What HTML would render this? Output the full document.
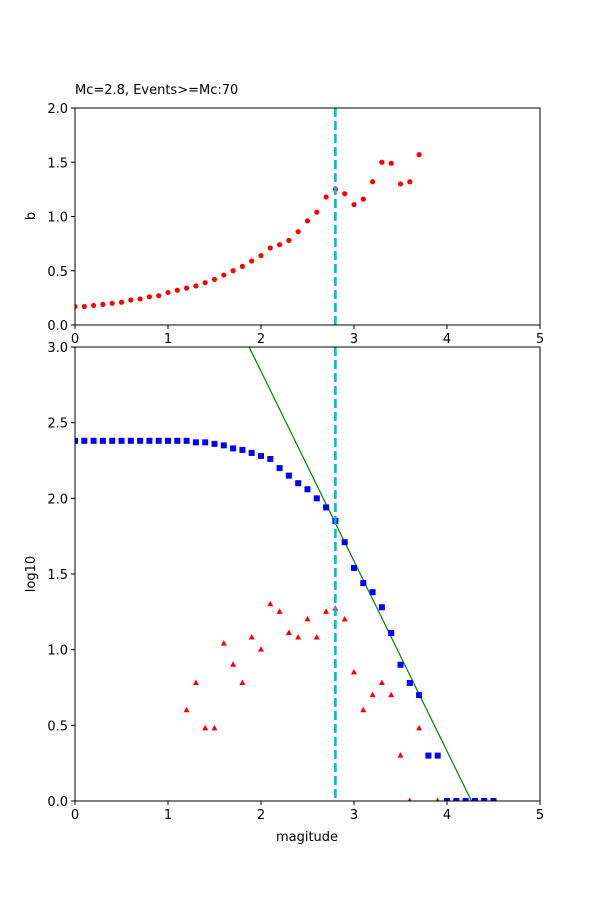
<!DOCTYPE html>
<html><head><meta charset="utf-8"><style>
body{margin:0;background:#fff}
svg text{font-family:"DejaVu Sans","Liberation Sans",sans-serif;font-size:13px;fill:#000}
</style></head><body>
<svg id="c" width="600" height="900" xmlns="http://www.w3.org/2000/svg"></svg>
<script>
const bMags=[0,0.1,0.2,0.3,0.4,0.5,0.6,0.7,0.8,0.9,1.0,1.1,1.2,1.3,1.4,1.5,1.6,1.7,1.8,1.9,2.0,2.1,2.2,2.3,2.4,2.5,2.6,2.7,2.8,2.9,3.0,3.1,3.2,3.3,3.4,3.5,3.6,3.7];
const bValues=[0.17,0.17,0.18,0.19,0.2,0.21,0.23,0.24,0.26,0.27,0.3,0.32,0.34,0.36,0.39,0.42,0.46,0.5,0.54,0.59,0.64,0.71,0.74,0.78,0.86,0.96,1.04,1.18,1.25,1.21,1.11,1.16,1.32,1.5,1.49,1.3,1.32,1.57];
const cumMags=[0,0.1,0.2,0.3,0.4,0.5,0.6,0.7,0.8,0.9,1.0,1.1,1.2,1.3,1.4,1.5,1.6,1.7,1.8,1.9,2.0,2.1,2.2,2.3,2.4,2.5,2.6,2.7,2.8,2.9,3.0,3.1,3.2,3.3,3.4,3.5,3.6,3.7,3.8,3.9,4.0,4.1,4.2,4.3,4.4,4.5];
const cumLog=[2.38,2.38,2.38,2.38,2.38,2.38,2.38,2.38,2.38,2.38,2.38,2.38,2.38,2.37,2.37,2.36,2.35,2.33,2.32,2.30,2.28,2.26,2.20,2.15,2.10,2.06,2.00,1.94,1.85,1.71,1.54,1.44,1.38,1.28,1.11,0.90,0.78,0.70,0.30,0.30,0,0,0,0,0,0];
const nMags=[1.2,1.3,1.4,1.5,1.6,1.7,1.8,1.9,2.0,2.1,2.2,2.3,2.4,2.5,2.6,2.7,2.8,2.9,3.0,3.1,3.2,3.3,3.4,3.5,3.6,3.7,3.9];
const nLog=[0.6,0.78,0.48,0.48,1.04,0.9,0.78,1.08,1.0,1.3,1.25,1.11,1.08,1.2,1.08,1.25,1.27,1.2,0.85,0.6,0.7,0.78,0.7,0.3,0,0.48,0];
const mc=2.8, fitA=5.35, fitB=1.255;
const xTicks=[0,1,2,3,4,5], bTicks=[0,0.5,1.0,1.5,2.0], lTicks=[0,0.5,1.0,1.5,2.0,2.5,3.0];

const NS="http://www.w3.org/2000/svg", svg=document.getElementById('c');
function mk(t,a,p){const e=document.createElementNS(NS,t);for(const k in a)e.setAttribute(k,a[k]);(p||svg).appendChild(e);return e;}
const L=75,R=540;
const sx=m=>L+(R-L)*m/5;
const syT=v=>325-(325-108)*v/2;
const syB=v=>801-(801-347)*v/3;

// clip paths
const defs=mk('defs',{});
const c1=mk('clipPath',{id:'cT'},defs);mk('rect',{x:L,y:108,width:R-L,height:217},c1);
const c2=mk('clipPath',{id:'cB'},defs);mk('rect',{x:L,y:347,width:R-L,height:454},c2);

// top panel
const gT=mk('g',{'clip-path':'url(#cT)'});


bMags.forEach((m,i)=>{const e=mk('circle',{cx:sx(m),cy:syT(bValues[i]),r:2.6,fill:'red'},gT);

});
let e=mk('line',{x1:sx(mc),x2:sx(mc),y1:108,y2:325,stroke:'#00BFBF','stroke-width':2.6,'stroke-dasharray':'9,4'},gT);



// bottom panel
const gB=mk('g',{'clip-path':'url(#cB)'});


e=mk('line',{x1:sx(0),y1:syB(fitA),x2:sx(5),y2:syB(fitA-fitB*5),stroke:'green','stroke-width':1.2},gB);


cumMags.forEach((m,i)=>{const e=mk('rect',{x:sx(m)-3,y:syB(cumLog[i])-3,width:6,height:6,fill:'blue'},gB);

});
nMags.forEach((m,i)=>{const x=sx(m),y=syB(nLog[i]);const e=mk('polygon',{points:`${x},${y-3.5} ${x-3},${y+2} ${x+3},${y+2}`,fill:'red'},gB);

});
e=mk('line',{x1:sx(mc),x2:sx(mc),y1:347,y2:801,stroke:'#00BFBF','stroke-width':2.6,'stroke-dasharray':'9,4'},gB);



// axes frames
e=mk('rect',{x:L,y:108,width:R-L,height:217,fill:'none',stroke:'#000','stroke-width':1});


e=mk('rect',{x:L,y:347,width:R-L,height:454,fill:'none',stroke:'#000','stroke-width':1});



function xAxis(yb,name){xTicks.forEach(t=>{mk('line',{x1:sx(t),x2:sx(t),y1:yb,y2:yb+4,stroke:'#000'});
const e=mk('text',{x:sx(t),y:yb+18,'text-anchor':'middle'});e.textContent=t;

});}
function yAxis(ticks,sy,name){ticks.forEach(t=>{mk('line',{x1:L-4,x2:L,y1:sy(t),y2:sy(t),stroke:'#000'});
const e=mk('text',{x:L-7,y:sy(t)+5,'text-anchor':'end'});e.textContent=t.toFixed(1);

});}
xAxis(325,'top-x-tick');xAxis(801,'bottom-x-tick');
yAxis(bTicks,syT,'b-y-tick');yAxis(lTicks,syB,'log-y-tick');

e=mk('text',{x:L,y:94});e.textContent='Mc=2.8, Events>=Mc:70';


e=mk('text',{x:35,y:216,'text-anchor':'middle',transform:'rotate(-90 35 216)'});e.textContent='b';


e=mk('text',{x:35,y:574,'text-anchor':'middle',transform:'rotate(-90 35 574)'});e.textContent='log10';


e=mk('text',{x:307,y:841,'text-anchor':'middle'});e.textContent='magitude';


</script>
</body></html>
